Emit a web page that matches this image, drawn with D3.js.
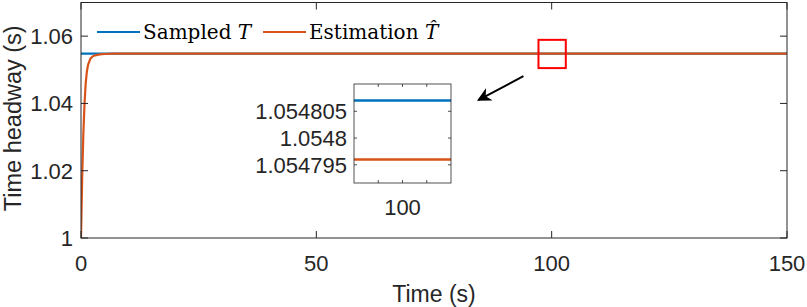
<!DOCTYPE html>
<html>
<head>
<meta charset="utf-8">
<script src="https://cdn.jsdelivr.net/npm/d3@7"></script>
<style>
  body { margin: 0; background: #fff; }
  svg { display: block; }
</style>
</head>
<body>
<div id="grafica"></div>
<script>
// data
var sampledTime = [0, 150];
var sampledT = [1.054807, 1.054807];

var estTime = [0, 0.25, 0.5, 0.75, 1, 1.25, 1.5, 2, 2.5, 3, 4, 5, 7, 10, 150];
var estT = [1.0, 1.018, 1.031, 1.040, 1.046, 1.0495, 1.0515, 1.0533, 1.0540, 1.0543, 1.0546, 1.0547, 1.05479, 1.054796, 1.054796];

var xTicks = [0, 50, 100, 150];
var yTicks = [1, 1.02, 1.04, 1.06];
var insetXTicks = [99, 100, 101];
var insetXLabels = ["", "100", ""];
var insetYTicks = [1.054795, 1.0548, 1.054805];
var insetYLabels = ["1.054795", "1.0548", "1.054805"];

var zoomBox = {x0: 97.2, x1: 103, y0: 1.0505, y1: 1.0589};
var arrowFrom = {x: 94, y: 1.0481};
var arrowTo = {x: 84.4, y: 1.0410};

var blue = "#0072BD", orange = "#D95319", axisCol = "#262626";

var W = 807, H = 307;
var svg = d3.select("#grafica")
  .append("svg")
  .attr("width", W)
  .attr("height", H);

// main axes
var x = d3.scaleLinear().domain([0, 150]).range([81, 787]);
var y = d3.scaleLinear().domain([1, 1.07]).range([238, 2.5]);

var line = d3.line()
  .x(function(d) { return x(d[0]); })
  .y(function(d) { return y(d[1]); });

var defs = svg.append("defs");
defs.append("clipPath").attr("id", "mainClip")
  .append("rect")
  .attr("x", x(0)).attr("y", y(1.07))
  .attr("width", x(150) - x(0)).attr("height", y(1) - y(1.07));

var plot = svg.append("g").attr("clip-path", "url(#mainClip)");

plot.append("path")
  .datum(d3.zip(sampledTime, sampledT))
  .attr("fill", "none")
  .attr("stroke", blue)
  .attr("stroke-width", 2.2)
  .attr("d", line);

plot.append("path")
  .datum(d3.zip(estTime, estT))
  .attr("fill", "none")
  .attr("stroke", orange)
  .attr("stroke-width", 2.2)
  .attr("d", line);

// ticks (inward, both sides)
var tickFont = "Liberation Sans, Arial, sans-serif";
var axes = svg.append("g").attr("stroke", axisCol).attr("stroke-width", 1);

xTicks.forEach(function(t) {
  axes.append("line").attr("x1", x(t)).attr("x2", x(t)).attr("y1", y(1)).attr("y2", y(1) - 7);
  axes.append("line").attr("x1", x(t)).attr("x2", x(t)).attr("y1", y(1.07)).attr("y2", y(1.07) + 7);
});
yTicks.forEach(function(t) {
  axes.append("line").attr("x1", x(0)).attr("x2", x(0) + 7).attr("y1", y(t)).attr("y2", y(t));
  axes.append("line").attr("x1", x(150)).attr("x2", x(150) - 7).attr("y1", y(t)).attr("y2", y(t));
});

axes.append("rect")
  .attr("x", x(0)).attr("y", y(1.07))
  .attr("width", x(150) - x(0)).attr("height", y(1) - y(1.07))
  .attr("fill", "none");

svg.selectAll(".xlab").data(xTicks).enter().append("text")
  .attr("x", function(d) { return x(d); })
  .attr("y", 271)
  .attr("text-anchor", "middle")
  .style("font-family", tickFont).style("font-size", "22px").style("fill", axisCol)
  .text(function(d) { return d; });

svg.selectAll(".ylab").data(yTicks).enter().append("text")
  .attr("x", 73)
  .attr("y", function(d) { return y(d); })
  .attr("dy", "0.36em")
  .attr("text-anchor", "end")
  .style("font-family", tickFont).style("font-size", "22px").style("fill", axisCol)
  .text(function(d) { return d3.format("~g")(d); });

svg.append("text")
  .attr("x", 434).attr("y", 302)
  .attr("text-anchor", "middle")
  .style("font-family", tickFont).style("font-size", "23px").style("fill", axisCol)
  .text("Time (s)");

svg.append("text")
  .attr("transform", "translate(21," + ((y(1) + y(1.07)) / 2 - 2) + ") rotate(-90)")
  .attr("text-anchor", "middle")
  .style("font-family", tickFont).style("font-size", "23.5px").style("fill", axisCol)
  .text("Time headway (s)");

// legend
var legFont = "DejaVu Serif, serif";
var leg = svg.append("g").style("font-family", legFont).style("font-size", "20px").style("fill", "#000");
leg.append("line").attr("x1", 97).attr("x2", 140).attr("y1", 32).attr("y2", 32)
  .attr("stroke", blue).attr("stroke-width", 2.2);
var t1 = leg.append("text").attr("x", 143).attr("y", 39);
t1.append("tspan").text("Sampled ");
t1.append("tspan").style("font-style", "italic").text("T");
leg.append("line").attr("x1", 263).attr("x2", 306).attr("y1", 32).attr("y2", 32)
  .attr("stroke", orange).attr("stroke-width", 2.2);
var t2 = leg.append("text").attr("x", 309).attr("y", 39);
t2.append("tspan").text("Estimation ");
t2.append("tspan").style("font-style", "italic").text("T\u0302");

// zoom marker and arrow
svg.append("rect")
  .attr("x", x(zoomBox.x0)).attr("y", y(zoomBox.y1))
  .attr("width", x(zoomBox.x1) - x(zoomBox.x0))
  .attr("height", y(zoomBox.y0) - y(zoomBox.y1))
  .attr("fill", "none").attr("stroke", "#FF0000").attr("stroke-width", 2);

defs.append("marker")
  .attr("id", "head")
  .attr("viewBox", "0 0 10 10")
  .attr("refX", 9).attr("refY", 5)
  .attr("markerWidth", 14).attr("markerHeight", 14)
  .attr("markerUnits", "userSpaceOnUse")
  .attr("orient", "auto")
  .append("path").attr("d", "M0,0 L10,5 L0,10 L3,5 Z").attr("fill", "#000");

svg.append("line")
  .attr("x1", x(arrowFrom.x)).attr("y1", y(arrowFrom.y))
  .attr("x2", x(arrowTo.x)).attr("y2", y(arrowTo.y))
  .attr("stroke", "#000").attr("stroke-width", 2)
  .attr("marker-end", "url(#head)");

// inset axes
var xi = d3.scaleLinear().domain([98, 102]).range([354, 451]);
var yi = d3.scaleLinear().domain([1.0547916, 1.0548101]).range([183, 84]);
var lineI = d3.line()
  .x(function(d) { return xi(d[0]); })
  .y(function(d) { return yi(d[1]); });

defs.append("clipPath").attr("id", "insetClip")
  .append("rect").attr("x", 354).attr("y", 84).attr("width", 97).attr("height", 99);

var inset = svg.append("g");
inset.append("rect").attr("x", 354).attr("y", 84).attr("width", 97).attr("height", 99)
  .attr("fill", "#fff");

var insetPlot = inset.append("g").attr("clip-path", "url(#insetClip)");
insetPlot.append("path").datum(d3.zip(sampledTime, sampledT))
  .attr("fill", "none").attr("stroke", blue).attr("stroke-width", 2.5).attr("d", lineI);
insetPlot.append("path").datum(d3.zip(estTime, estT))
  .attr("fill", "none").attr("stroke", orange).attr("stroke-width", 2.5).attr("d", lineI);

var ia = inset.append("g").attr("stroke", axisCol).attr("stroke-width", 0.8);
insetXTicks.forEach(function(t) {
  ia.append("line").attr("x1", xi(t)).attr("x2", xi(t)).attr("y1", 183).attr("y2", 180);
  ia.append("line").attr("x1", xi(t)).attr("x2", xi(t)).attr("y1", 84).attr("y2", 87);
});
insetYTicks.forEach(function(t) {
  ia.append("line").attr("x1", 354).attr("x2", 357).attr("y1", yi(t)).attr("y2", yi(t));
  ia.append("line").attr("x1", 451).attr("x2", 448).attr("y1", yi(t)).attr("y2", yi(t));
});
ia.append("rect").attr("x", 354).attr("y", 84).attr("width", 97).attr("height", 99).attr("fill", "none");

inset.selectAll(".ixl").data(insetXTicks).enter().append("text")
  .attr("x", function(d) { return xi(d); })
  .attr("y", 215)
  .attr("text-anchor", "middle")
  .style("font-family", tickFont).style("font-size", "22px").style("fill", axisCol)
  .text(function(d, i) { return insetXLabels[i]; });

inset.selectAll(".iyl").data(insetYTicks).enter().append("text")
  .attr("x", 347)
  .attr("y", function(d) { return yi(d); })
  .attr("dy", "0.36em")
  .attr("text-anchor", "end")
  .style("font-family", tickFont).style("font-size", "22px").style("fill", axisCol)
  .text(function(d, i) { return insetYLabels[i]; });
</script>
</body>
</html>
